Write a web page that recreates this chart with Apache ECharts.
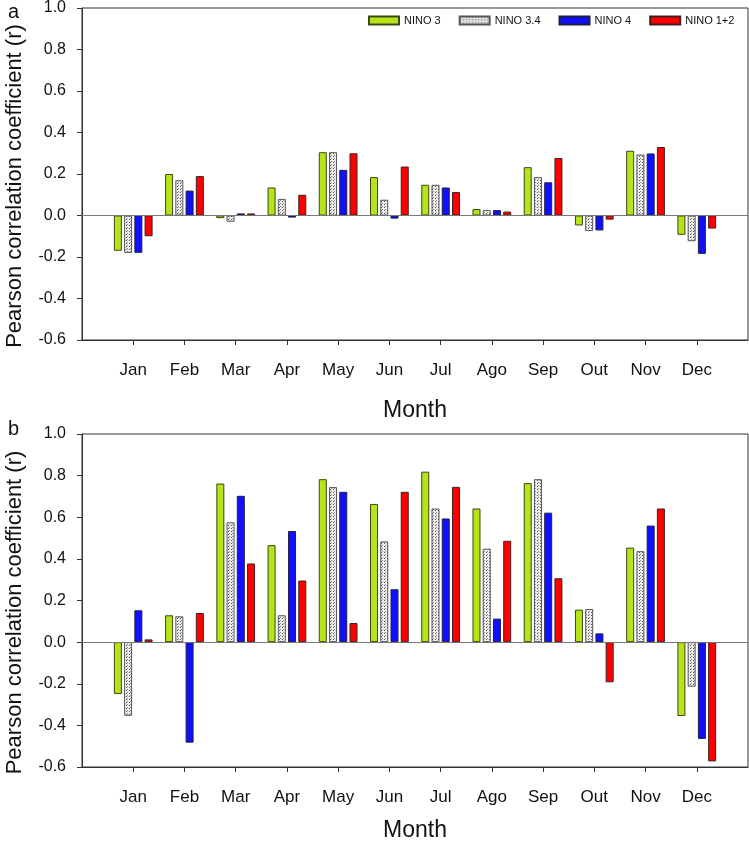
<!DOCTYPE html>
<html>
<head>
<meta charset="utf-8">
<script src="https://cdn.jsdelivr.net/npm/echarts@6/dist/echarts.min.js"></script>
<style>
html,body{margin:0;padding:0;background:#fff;}
#c{width:749px;height:843px;}
</style>
</head>
<body>
<div id="c"></div>
<script>
// ---- data ----
var months = ['Jan','Feb','Mar','Apr','May','Jun','Jul','Ago','Sep','Out','Nov','Dec'];
var seriesNames = ['NINO 3','NINO 3.4','NINO 4','NINO 1+2'];
var yTicks = [-0.6,-0.4,-0.2,0.0,0.2,0.4,0.6,0.8,1.0];

// panel a
var aNino3  = [-0.17, 0.20, -0.013, 0.135, 0.305, 0.185, 0.148, 0.031, 0.233, -0.048, 0.312, -0.093];
var aNino34 = [-0.18, 0.17, -0.03, 0.08, 0.305, 0.076, 0.148, 0.026, 0.185, -0.075, 0.294, -0.124];
var aNino4  = [-0.18, 0.12, 0.01, -0.01, 0.22, -0.015, 0.135, 0.026, 0.16, -0.072, 0.299, -0.185];
var aNino12 = [-0.10, 0.19, 0.01, 0.10, 0.30, 0.236, 0.113, 0.019, 0.277, -0.02, 0.33, -0.063];

// panel b
var bNino3  = [-0.249, 0.129, 0.762, 0.466, 0.783, 0.664, 0.819, 0.642, 0.764, 0.156, 0.454, -0.355];
var bNino34 = [-0.354, 0.124, 0.576, 0.129, 0.745, 0.484, 0.642, 0.449, 0.783, 0.159, 0.437, -0.214];
var bNino4  = [0.153, -0.483, 0.703, 0.534, 0.722, 0.254, 0.594, 0.113, 0.622, 0.042, 0.560, -0.465];
var bNino12 = [0.013, 0.140, 0.378, 0.296, 0.092, 0.722, 0.746, 0.487, 0.307, -0.193, 0.642, -0.573];

// ---- styling helpers ----
var FONT = "'Liberation Sans',Arial,sans-serif";
var dots = document.createElement('canvas');
dots.width = 3; dots.height = 3;
(function(){
  var g = dots.getContext('2d');
  g.fillStyle = '#eeeeee'; g.fillRect(0,0,3,3);
  g.fillStyle = '#505050'; g.fillRect(0,0,1,1);
  g.fillStyle = '#8a8a8a'; g.fillRect(1,2,1,1);
})();
var fills = ['#b6e31c', {image: dots, repeat: 'repeat'}, '#1010ff', '#ff0000'];
var borders = ['#3a4a10', '#555555', '#202040', '#402020'];

var cats = [''].concat(months).concat(['']);
function pad(arr){ return ['-'].concat(arr).concat(['-']); }

function xAxisFor(gi, gap){
  return {
    type: 'category', gridIndex: gi, data: cats, boundaryGap: false,
    name: 'Month', nameLocation: 'middle', nameGap: gap,
    nameTextStyle: {fontFamily: FONT, fontSize: 23, color: '#111'},
    axisLine: {onZero: false, lineStyle: {color: '#333', width: 1}},
    axisTick: {show: true, inside: false, length: 5, lineStyle: {color: '#333'},
      interval: function(i, v){ return v !== ''; }},
    axisLabel: {interval: 0, fontFamily: FONT, fontSize: 17, color: '#111', margin: 22},
    splitLine: {show: false}
  };
}
function yAxisFor(gi){
  return {
    type: 'value', gridIndex: gi, min: -0.6, max: 1.0, interval: 0.2,
    name: 'Pearson correlation coefficient (r)', nameLocation: 'middle', nameGap: 56,
    nameTextStyle: {fontFamily: FONT, fontSize: 22, color: '#111', padding: [0, 24, 0, 0]},
    axisLine: {show: true, lineStyle: {color: '#333', width: 1}},
    axisTick: {show: true, inside: false, length: 5, lineStyle: {color: '#333'}},
    axisLabel: {fontFamily: FONT, fontSize: 16, color: '#111', margin: 16,
      formatter: function(v){ return v.toFixed(1); }},
    splitLine: {show: false}
  };
}

var panels = [[aNino3, aNino34, aNino4, aNino12], [bNino3, bNino34, bNino4, bNino12]];
var series = [];
panels.forEach(function(p, gi){
  p.forEach(function(vals, si){
    var s = {
      type: 'bar', name: seriesNames[si], xAxisIndex: gi, yAxisIndex: gi,
      data: pad(vals), barWidth: 8, barGap: '28%',
      itemStyle: {color: fills[si], borderColor: borders[si], borderWidth: 1},
      emphasis: {disabled: true}, silent: true
    };
    if (si === 0) {
      s.markLine = {silent: true, symbol: 'none', label: {show: false},
        lineStyle: {color: '#777', type: 'solid', width: 1},
        data: [{yAxis: 0}]};
    }
    series.push(s);
  });
});

var chart = echarts.init(document.getElementById('c'), null, {renderer: 'canvas'});
chart.setOption({
  animation: false,
  backgroundColor: '#fff',
  title: [
    {text: 'a', left: 3, top: -3, textStyle: {fontFamily: FONT, fontSize: 20, fontWeight: 'normal', color: '#111'}},
    {text: 'b', left: 3, top: 414, textStyle: {fontFamily: FONT, fontSize: 20, fontWeight: 'normal', color: '#111'}}
  ],
  legend: {
    data: seriesNames, left: 368, width: 381, top: 15, itemWidth: 30, itemHeight: 8, itemGap: 18,
    icon: 'rect', selectedMode: false, padding: 0,
    textStyle: {fontFamily: FONT, fontSize: 11, color: '#111'}
  },
  grid: [
    {left: 82, width: 666, top: 8, height: 332, show: true, borderColor: '#333', borderWidth: 1,
      backgroundColor: 'transparent', containLabel: false, outerBoundsMode: 'none'},
    {left: 82, width: 666, top: 434, height: 333, show: true, borderColor: '#333', borderWidth: 1,
      backgroundColor: 'transparent', containLabel: false, outerBoundsMode: 'none'}
  ],
  xAxis: [xAxisFor(0, 59), xAxisFor(1, 52)],
  yAxis: [yAxisFor(0), yAxisFor(1)],
  series: series
});
</script>
</body>
</html>
